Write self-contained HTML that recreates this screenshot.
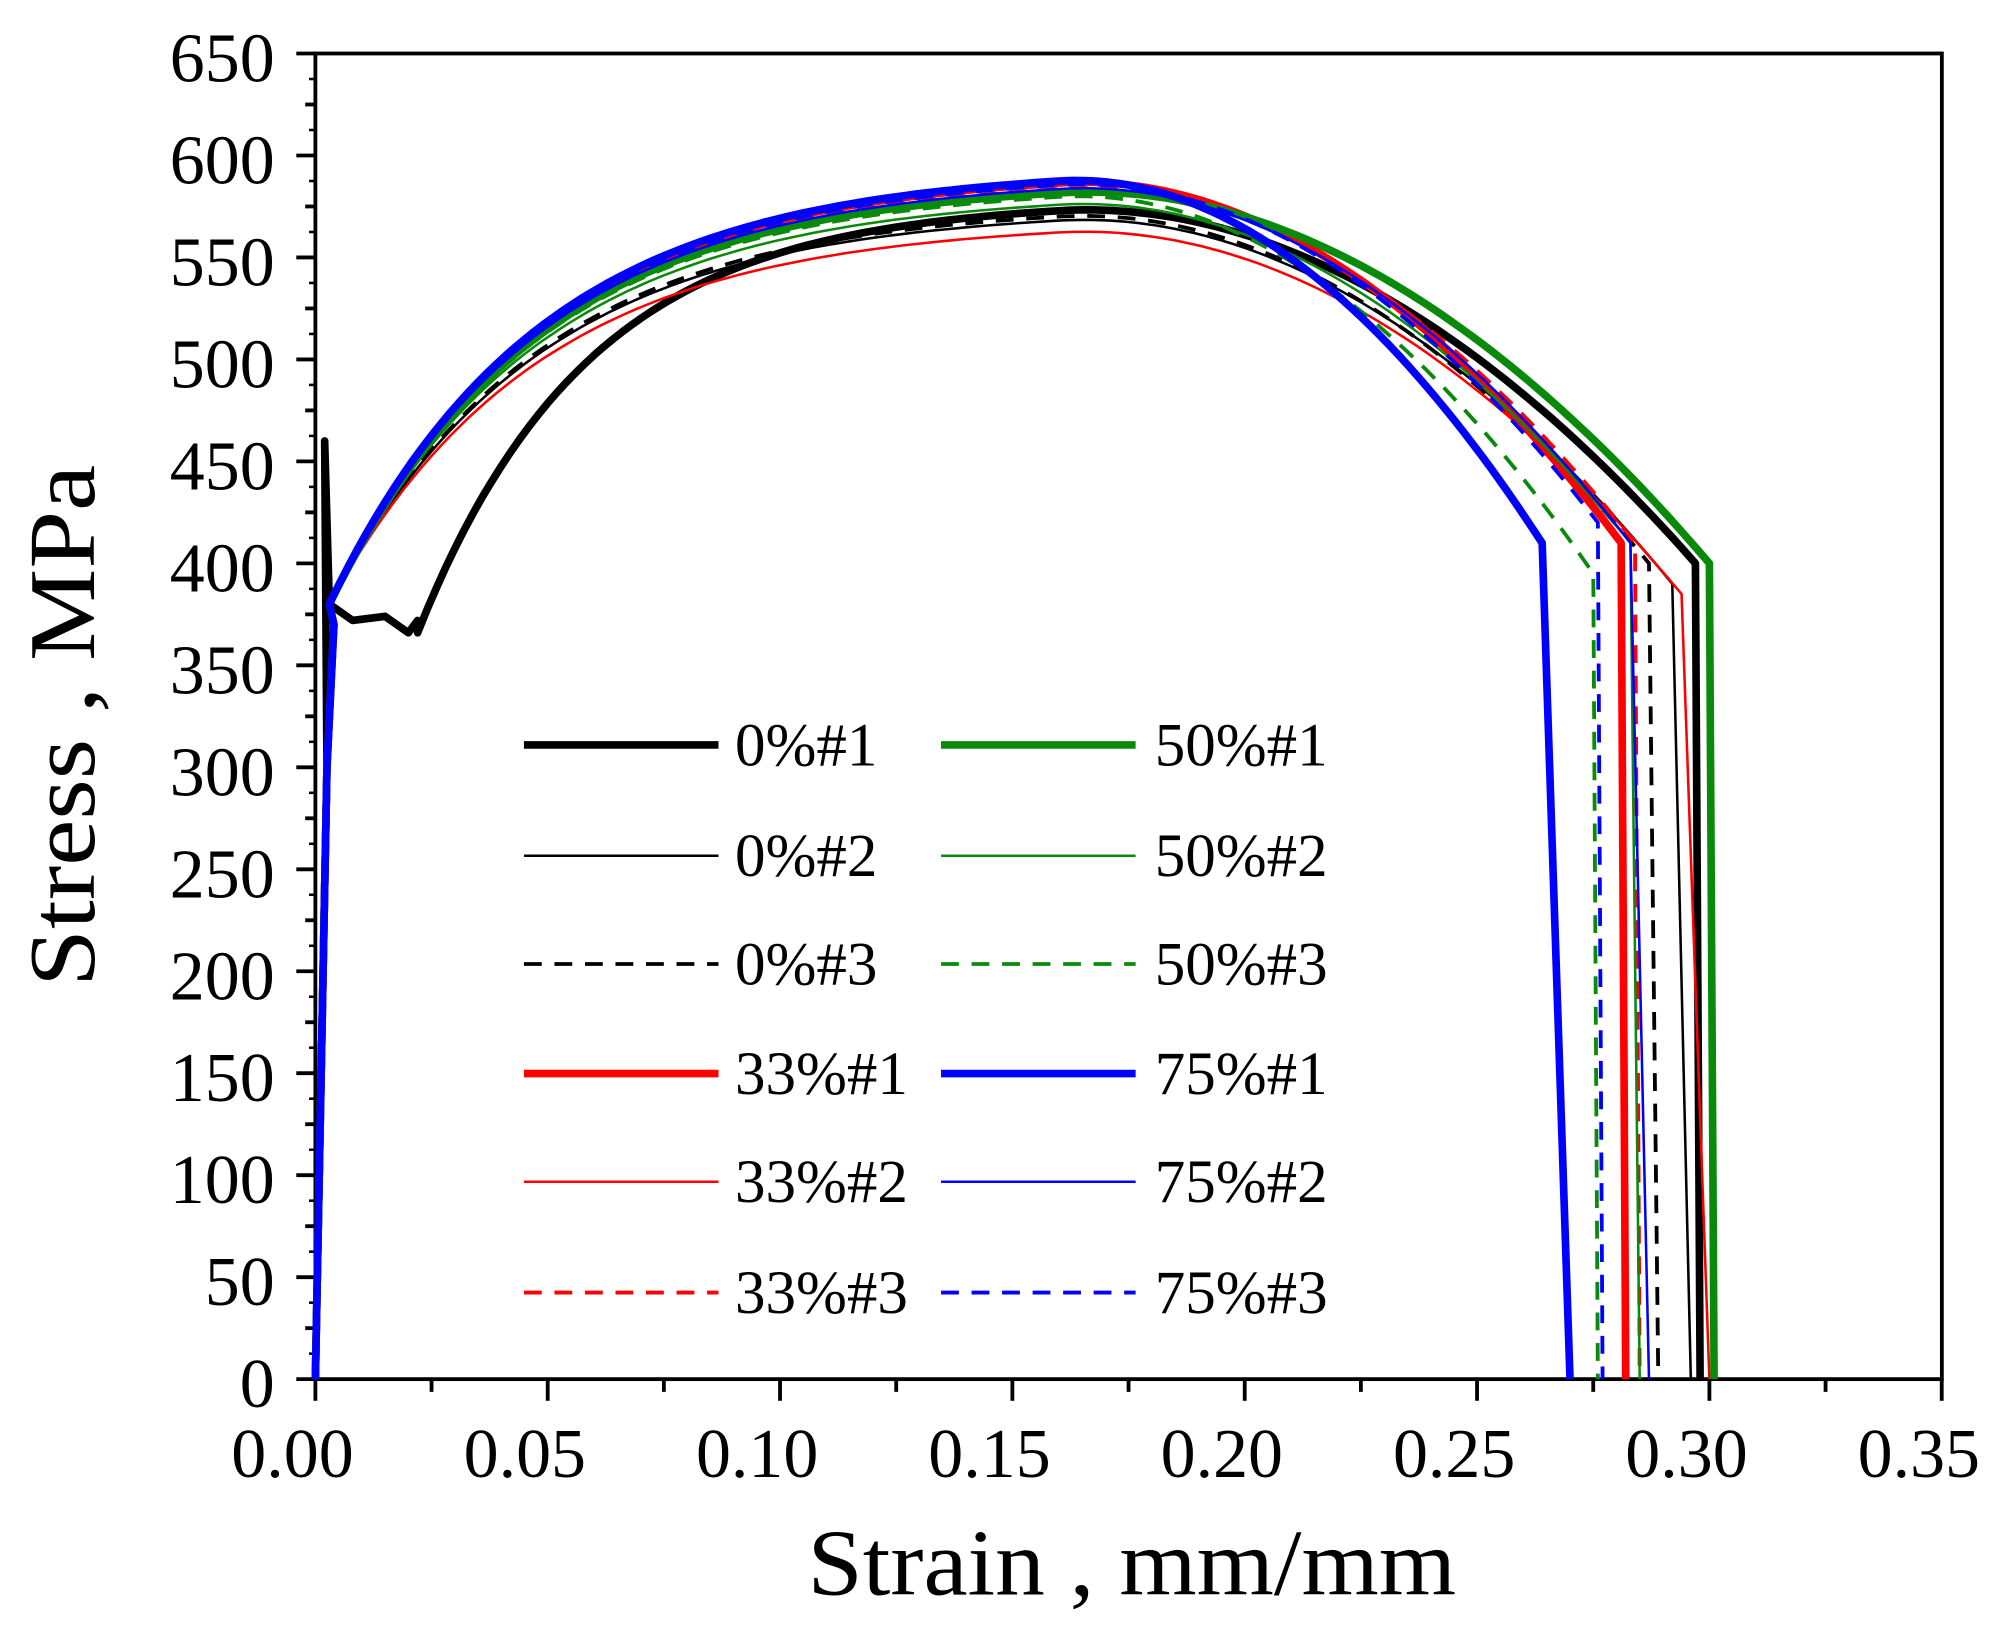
<!DOCTYPE html>
<html><head><meta charset="utf-8"><style>
html,body{margin:0;padding:0;background:#fff;}
svg{display:block;}
text{font-family:"Liberation Serif",serif;fill:#000;}
</style></head><body>
<svg id="s" width="1994" height="1630" viewBox="0 0 1568 1280" preserveAspectRatio="none" xmlns="http://www.w3.org/2000/svg">
<rect x="248" y="42" width="1279" height="1041" fill="none" stroke="#000" stroke-width="3"/>
<g id="ticks" stroke="#000" stroke-width="3"></g>
<g id="labels" font-size="55"></g>
<g id="curves" fill="none" stroke-linejoin="round"></g>
<g id="legend" font-size="48"></g>
<text x="890" y="1252" font-size="74" text-anchor="middle" textLength="510" lengthAdjust="spacingAndGlyphs">Strain ,  mm/mm</text>
<text transform="translate(74,570) rotate(-90)" font-size="74" text-anchor="middle" textLength="410" lengthAdjust="spacingAndGlyphs">Stress ,  MPa</text>
</svg>
<script>
const NS="http://www.w3.org/2000/svg";
const X=e=>248+e*3654, Y=s=>1083-s*1.6015;
function el(p,t,a,txt){const n=document.createElementNS(NS,t);for(const k in a)n.setAttribute(k,a[k]);if(txt!==undefined)n.textContent=txt;document.getElementById(p).appendChild(n);return n;}
for(let v=0;v<=650;v+=25){const y=Y(v);const maj=v%50==0;el('ticks','line',{x1:248,x2:maj?233:240,y1:y,y2:y});
 if(maj)el('labels','text',{x:216,y:y+22,'text-anchor':'end'},String(v));}
for(let v=0;v<=650;v+=12.5){if(v%25)el('ticks','line',{x1:248,x2:243,y1:Y(v),y2:Y(v),'stroke-width':2});}
for(let i=0;i<=14;i++){const e=i*0.025,x=X(e),maj=i%2==0;el('ticks','line',{x1:x,x2:x,y1:1083,y2:maj?1100:1093});
 if(maj)el('labels','text',{x:x-18,y:1160,'text-anchor':'middle'},e.toFixed(2));}
const C={k:'#000',g:'#0a8a0a',r:'#ff0000',b:'#0000ff'};
const S=[
 ['k',6,'',578,0.297,400,0.298,true],
 ['k',2,'',574,0.292,390,0.296,false],
 ['k',3,'14 10',576,0.287,400,0.289,false],
 ['r',6,'',593,0.281,410,0.282,false],
 ['r',2,'',568,0.294,385,0.300,false],
 ['r',3,'14 10',590,0.284,410,0.285,false],
 ['g',6,'',588,0.300,400,0.301,false],
 ['g',2,'',582,0.283,410,0.285,false],
 ['g',3,'14 10',586,0.275,395,0.276,false],
 ['b',6,'',594,0.264,410,0.270,false],
 ['b',2,'',590,0.283,410,0.287,false],
 ['b',3,'14 10',592,0.276,420,0.277,false]];
S.forEach(([c,w,d,P,ef,sf,ed,lud])=>{
 const en=0.16;
 const base=e=>lud?366+(P-366)*(1-Math.exp(-(e-0.022)/0.037)):380+(P-380)*(1-Math.exp(-(e-0.003)/0.045));
 const A=(base(ef)-sf)/Math.pow(ef-en,2);
 const pts=[[0,0],[0.0025,300]];
 let e0=0.003;
 if(lud){pts.push([0.002,460],[0.003,380],[0.008,372],[0.015,374],[0.02,366],[0.022,372]);e0=0.022;}
 else pts.push([0.004,370]);
 for(let e=e0;e<=ef;e+=0.002){let s=base(e);
  if(e>en)s-=A*Math.pow(e-en,2);
  pts.push([e,s]);}
 pts.push([ef,sf],[ed,0]);
 el('curves','polyline',{points:pts.map(p=>X(p[0]).toFixed(1)+','+Y(p[1]).toFixed(1)).join(' '),stroke:C[c],'stroke-width':w,'stroke-dasharray':d});
});
const L=[['k',6,'','0%#1'],['k',2,'','0%#2'],['k',3,'14 10','0%#3'],['r',6,'','33%#1'],['r',2,'','33%#2'],['r',3,'14 10','33%#3']];
const R=[['g',6,'','50%#1'],['g',2,'','50%#2'],['g',3,'14 10','50%#3'],['b',6,'','75%#1'],['b',2,'','75%#2'],['b',3,'14 10','75%#3']];
const ys=[585,672,757,843,928,1015];
L.forEach((l,i)=>{el('legend','line',{x1:412,x2:565,y1:ys[i],y2:ys[i],stroke:C[l[0]],'stroke-width':l[1],'stroke-dasharray':l[2]});el('legend','text',{x:578,y:ys[i]+16},l[3]);});
R.forEach((l,i)=>{el('legend','line',{x1:740,x2:893,y1:ys[i],y2:ys[i],stroke:C[l[0]],'stroke-width':l[1],'stroke-dasharray':l[2]});el('legend','text',{x:908,y:ys[i]+16},l[3]);});
</script>
</body></html>
